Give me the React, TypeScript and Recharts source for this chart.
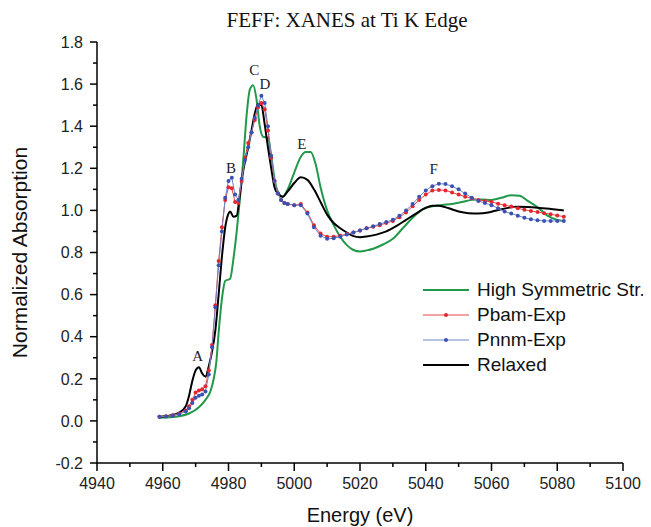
import { LineChart, Line, XAxis, YAxis, Legend, ReferenceDot, Label } from 'recharts'

// energy (eV), normalized absorption
const HIGH_SYM: [number, number][] = [
  [4959, 0.015], [4962, 0.017], [4965, 0.022], [4968, 0.035], [4971, 0.065], [4973, 0.1],
  [4974.5, 0.14], [4975.5, 0.2], [4976.3, 0.28], [4977, 0.42], [4978, 0.58], [4979, 0.665],
  [4980.5, 0.675], [4981.5, 0.77], [4982.5, 0.9], [4983.5, 1.06], [4984.5, 1.24], [4985.5, 1.45],
  [4986.5, 1.575], [4987.5, 1.595], [4988.5, 1.53], [4989.5, 1.4], [4990.5, 1.35], [4992, 1.345],
  [4993, 1.26], [4994, 1.15], [4995, 1.09], [4996.5, 1.065], [4998, 1.1], [5000, 1.18],
  [5002, 1.255], [5003.5, 1.278], [5005, 1.278], [5006.5, 1.22], [5008, 1.11], [5010, 1.0],
  [5012, 0.93], [5014, 0.874], [5016, 0.835], [5018, 0.812], [5020, 0.805], [5022, 0.81],
  [5024, 0.818], [5027, 0.838], [5030, 0.865], [5033, 0.915], [5036, 0.965], [5039, 1.005],
  [5042, 1.02], [5045, 1.026], [5048, 1.03], [5051, 1.04], [5054, 1.05], [5057, 1.052],
  [5060, 1.05], [5063, 1.06], [5066, 1.072], [5068.5, 1.07], [5071, 1.045], [5074, 1.015],
  [5077, 0.975], [5080, 0.955], [5082, 0.95],
]

const PBAM: [number, number][] = [
  [4959, 0.02], [4961, 0.022], [4963, 0.027], [4965, 0.035], [4967, 0.05], [4968, 0.07],
  [4969, 0.1], [4970, 0.135], [4971, 0.145], [4972, 0.15], [4973, 0.165], [4974, 0.24],
  [4975, 0.36], [4976, 0.55], [4977, 0.76], [4978, 0.92], [4979, 1.05], [4980, 1.11],
  [4981, 1.105], [4982, 1.04], [4983, 1.035], [4984, 1.14], [4985, 1.25], [4986, 1.32],
  [4987, 1.37], [4988, 1.43], [4989, 1.49], [4990, 1.51], [4991, 1.48], [4992, 1.38],
  [4993, 1.25], [4994, 1.14], [4995, 1.08], [4996, 1.05], [4997, 1.035], [4998, 1.03],
  [5000, 1.025], [5002, 1.03], [5004, 0.99], [5006, 0.93], [5008, 0.89], [5010, 0.875],
  [5012, 0.875], [5014, 0.88], [5016, 0.888], [5018, 0.895], [5020, 0.905], [5022, 0.915],
  [5024, 0.922], [5026, 0.93], [5028, 0.94], [5030, 0.95], [5032, 0.968], [5034, 0.99],
  [5036, 1.02], [5038, 1.05], [5040, 1.075], [5042, 1.095], [5044, 1.097], [5046, 1.095],
  [5048, 1.085], [5050, 1.075], [5052, 1.065], [5054, 1.058], [5056, 1.05], [5058, 1.045],
  [5060, 1.04], [5062, 1.032], [5064, 1.025], [5066, 1.018], [5068, 1.01], [5070, 1.003],
  [5072, 0.997], [5074, 0.992], [5076, 0.987], [5078, 0.982], [5080, 0.976], [5082, 0.97],
]

const PNNM: [number, number][] = [
  [4959, 0.02], [4961, 0.021], [4963, 0.025], [4965, 0.032], [4967, 0.045], [4968, 0.06],
  [4969, 0.085], [4970, 0.11], [4971, 0.12], [4972, 0.125], [4973, 0.14], [4974, 0.22],
  [4975, 0.35], [4976, 0.54], [4977, 0.74], [4978, 0.9], [4979, 1.06], [4980, 1.14],
  [4981, 1.155], [4982, 1.075], [4983, 1.05], [4984, 1.15], [4985, 1.24], [4986, 1.3],
  [4987, 1.37], [4988, 1.44], [4989, 1.5], [4990, 1.545], [4991, 1.51], [4992, 1.4],
  [4993, 1.26], [4994, 1.14], [4995, 1.08], [4996, 1.05], [4997, 1.035], [4998, 1.03],
  [5000, 1.025], [5002, 1.025], [5004, 0.985], [5006, 0.92], [5008, 0.88], [5010, 0.865],
  [5012, 0.868], [5014, 0.875], [5016, 0.885], [5018, 0.895], [5020, 0.905], [5022, 0.915],
  [5024, 0.925], [5026, 0.935], [5028, 0.945], [5030, 0.955], [5032, 0.975], [5034, 1.0],
  [5036, 1.03], [5038, 1.065], [5040, 1.095], [5042, 1.115], [5044, 1.127], [5046, 1.125],
  [5048, 1.115], [5050, 1.1], [5052, 1.08], [5054, 1.06], [5056, 1.045], [5058, 1.035],
  [5060, 1.025], [5062, 1.01], [5064, 0.995], [5066, 0.985], [5068, 0.975], [5070, 0.965],
  [5072, 0.958], [5074, 0.953], [5076, 0.95], [5078, 0.95], [5080, 0.95], [5082, 0.95],
]

const RELAXED: [number, number][] = [
  [4959, 0.02], [4962, 0.025], [4965, 0.04], [4967, 0.07], [4968, 0.12], [4969, 0.19],
  [4970, 0.24], [4971, 0.255], [4972, 0.225], [4973, 0.21], [4974, 0.26], [4975, 0.33],
  [4976, 0.43], [4977, 0.6], [4978, 0.78], [4979, 0.92], [4980, 0.985], [4980.5, 0.995],
  [4981.5, 0.97], [4982.5, 0.975], [4983.5, 1.08], [4984.5, 1.19], [4986, 1.3], [4987, 1.38],
  [4988, 1.46], [4989, 1.505], [4990, 1.5], [4991, 1.41], [4992, 1.3], [4993, 1.2],
  [4994, 1.11], [4995, 1.08], [4996.5, 1.065], [4998, 1.09], [5000, 1.13], [5002, 1.157],
  [5004, 1.145], [5006, 1.1], [5008, 1.04], [5010, 0.98], [5012, 0.94], [5014, 0.915],
  [5016, 0.895], [5018, 0.878], [5020, 0.873], [5022, 0.876], [5025, 0.885], [5028, 0.9],
  [5031, 0.925], [5034, 0.955], [5037, 0.985], [5040, 1.012], [5042, 1.022], [5044, 1.022],
  [5047, 1.01], [5050, 0.995], [5053, 0.987], [5056, 0.985], [5059, 0.99], [5062, 1.002],
  [5065, 1.012], [5068, 1.017], [5071, 1.016], [5074, 1.013], [5078, 1.007], [5082, 1.0],
]

const PEAKS = [
  { label: 'A', x: 4970.6, y: 0.312 },
  { label: 'B', x: 4980.8, y: 1.204 },
  { label: 'C', x: 4987.8, y: 1.67 },
  { label: 'D', x: 4991.1, y: 1.6 },
  { label: 'E', x: 5002.3, y: 1.318 },
  { label: 'F', x: 5042.4, y: 1.2 },
]

const X_TICKS = [4940, 4950, 4960, 4970, 4980, 4990, 5000, 5010, 5020, 5030, 5040, 5050, 5060, 5070, 5080, 5090, 5100]
const Y_TICKS = [-0.2, -0.1, 0, 0.1, 0.2, 0.3, 0.4, 0.5, 0.6, 0.7, 0.8, 0.9, 1.0, 1.1, 1.2, 1.3, 1.4, 1.5, 1.6, 1.7, 1.8]

const SERIES = [
  { key: 'high', name: 'High Symmetric Str.', data: HIGH_SYM, color: '#22994a', width: 2, dot: null },
  { key: 'pbam', name: 'Pbam-Exp', data: PBAM, color: '#e8424a', width: 1, dot: '#e3262f' },
  { key: 'pnnm', name: 'Pnnm-Exp', data: PNNM, color: '#7084c8', width: 1, dot: '#3a52b2' },
  { key: 'relaxed', name: 'Relaxed', data: RELAXED, color: '#000000', width: 2, dot: null },
]
const DRAW_ORDER = ['high', 'relaxed', 'pbam', 'pnnm']

const toPts = (arr: [number, number][]) => arr.map(([x, y]) => ({ x, y }))

const SANS = '"Liberation Sans", Arial, sans-serif'
const SERIF = '"Liberation Serif", "Times New Roman", serif'

// eslint-disable-next-line @typescript-eslint/no-explicit-any
function XTick({ x, y, payload }: any) {
  const major = payload.value % 20 === 0
  return (
    <g>
      <line x1={x} x2={x} y1={y} y2={y + (major ? 8 : 4)} stroke="#000" strokeWidth={1.5} />
      {major && (
        <text x={x} y={y + 26} textAnchor="middle" fontSize={16} fontFamily={SANS} fill="#222">
          {payload.value}
        </text>
      )}
    </g>
  )
}

// eslint-disable-next-line @typescript-eslint/no-explicit-any
function YTick({ x, y, payload }: any) {
  const v = payload.value
  const major = Math.round(v * 10) % 2 === 0
  return (
    <g>
      <line x1={x - (major ? 7 : 4)} x2={x} y1={y} y2={y} stroke="#000" strokeWidth={1.5} />
      {major && (
        <text x={x - 14} y={y} dy="0.36em" textAnchor="end" fontSize={16} fontFamily={SANS} fill="#222">
          {v.toFixed(1)}
        </text>
      )}
    </g>
  )
}

function SeriesLegend() {
  return (
    <div style={{ fontFamily: SANS, fontSize: 19, color: '#111', whiteSpace: 'nowrap' }}>
      {SERIES.map((s) => (
        <div key={s.key} style={{ display: 'flex', alignItems: 'center', height: 24.8 }}>
          <svg width={46} height={10} style={{ marginRight: 8 }}>
            <line x1={0} x2={46} y1={5} y2={5} stroke={s.color} strokeWidth={s.width} />
            {s.dot && <circle cx={23} cy={5} r={2} fill={s.dot} />}
          </svg>
          <span>{s.name}</span>
        </div>
      ))}
    </div>
  )
}

export default function App() {
  const byKey = Object.fromEntries(SERIES.map((s) => [s.key, s]))
  return (
    <div style={{ position: 'relative', width: 643, height: 519, overflow: 'hidden', background: '#fff' }}>
      <div
        style={{
          position: 'absolute',
          left: 0,
          width: 678,
          top: 1,
          textAlign: 'center',
          fontFamily: SERIF,
          fontSize: 21,
          lineHeight: '23px',
          color: '#111',
        }}
      >
        FEFF: XANES at Ti K Edge
      </div>
      <LineChart width={643} height={519} margin={{ top: 34, right: 28, left: 0, bottom: 0 }}>
        <XAxis
          dataKey="x"
          type="number"
          domain={[4940, 5100]}
          ticks={X_TICKS}
          interval={0}
          height={64}
          tickSize={0}
          tickMargin={0}
          tickLine={false}
          tick={<XTick />}
          axisLine={{ stroke: '#000', strokeWidth: 1.5 }}
        >
          <Label value="Energy (eV)" position="insideBottom" offset={5} fontSize={20} fontFamily={SANS} fill="#111" />
        </XAxis>
        <YAxis
          dataKey="y"
          type="number"
          domain={[-0.2, 1.8]}
          ticks={Y_TICKS}
          interval={0}
          width={89}
          tickSize={0}
          tickMargin={0}
          tickLine={false}
          tick={<YTick />}
          axisLine={{ stroke: '#000', strokeWidth: 1.5 }}
          allowDataOverflow
        >
          <Label
            value="Normalized Absorption"
            position="insideLeft"
            angle={-90}
            offset={12}
            fontSize={21}
            fontFamily={SANS}
            fill="#111"
            style={{ textAnchor: 'middle' }}
          />
        </YAxis>
        {DRAW_ORDER.map((k) => {
          const s = byKey[k]
          return (
            <Line
              key={s.key}
              data={toPts(s.data)}
              dataKey="y"
              name={s.name}
              type={s.dot ? 'linear' : 'monotone'}
              stroke={s.color}
              strokeWidth={s.width}
              dot={s.dot ? { r: 2, fill: s.dot, stroke: s.dot, strokeWidth: 0 } : false}
              activeDot={false}
              isAnimationActive={false}
            />
          )
        })}
        {PEAKS.map((p) => (
          <ReferenceDot key={p.label} x={p.x} y={p.y} r={0} fill="none" stroke="none">
            <Label value={p.label} position="center" fontSize={15} fontFamily={SERIF} fill="#222" />
          </ReferenceDot>
        ))}
        <Legend
          layout="vertical"
          align="center"
          verticalAlign="middle"
          content={<SeriesLegend />}
          wrapperStyle={{ position: 'absolute', left: 415, top: 270, width: 240 }}
        />
      </LineChart>
    </div>
  )
}
